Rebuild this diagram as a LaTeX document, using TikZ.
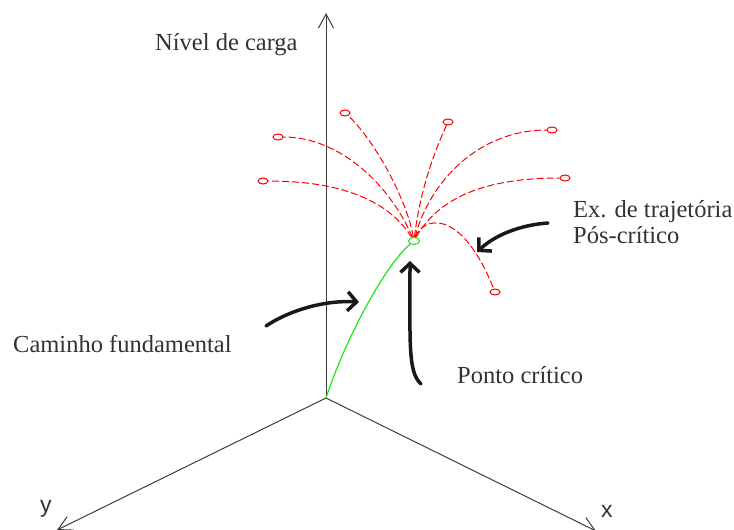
\documentclass[tikz,border=0pt]{standalone}
\usepackage{fontspec}
\setmainfont{Liberation Serif}
\newfontfamily\axisfont{Liberation Sans}
\newfontfamily\labelfont{Liberation Serif}
\usetikzlibrary{arrows.meta,shapes.geometric}
\definecolor{txtgray}{RGB}{50,50,50}
\definecolor{axisgray}{RGB}{60,60,60}
\definecolor{brightgreen}{RGB}{30,230,30}
\tikzset{
  axisline/.style={draw=axisgray, line width=1pt, -{Straight Barb[length=14pt,width=15pt,line width=1pt]}},
  label/.style={text=txtgray, inner sep=0pt, anchor=base west, font=\labelfont\fontsize{24.5}{28}\selectfont},
  axislabel/.style={text=txtgray, inner sep=0pt, anchor=base west, font=\axisfont\fontsize{23}{26}\selectfont},
  endpt/.style={ellipse, draw=red, line width=1pt, minimum width=10pt, minimum height=6pt, inner sep=0pt},
  critpt/.style={ellipse, draw=brightgreen, line width=1pt, minimum width=11pt, minimum height=7pt, inner sep=0pt},
  traj/.style={draw=red, line width=1pt, dash pattern=on 7pt off 3pt},
  fundpath/.style={draw=brightgreen, line width=1.2pt},
  pointer/.style={draw=black!90, line width=3.5pt, line cap=round, -{Straight Barb[length=9pt,width=19pt,line width=3.5pt]}}
}
\begin{document}
\begin{tikzpicture}[x=1pt,y=-1pt]
\useasboundingbox (0,0) rectangle (734,530);
% axes
\coordinate (o) at (326,398);
\coordinate (ztip) at (326,13);
\coordinate (ytip) at (57,530);
\coordinate (xtip) at (596,531);
\draw[axisline] (o) -- (ztip);
\draw[axisline] (o) -- (ytip);
\draw[axisline] (o) -- (xtip);
% critical point and trajectory ends
\node[critpt] (c) at (414,241) {};
\node[endpt] (e1) at (345,113) {};
\node[endpt] (e2) at (278,137) {};
\node[endpt] (e3) at (263,181) {};
\node[endpt] (e4) at (448,122) {};
\node[endpt] (e5) at (552,130) {};
\node[endpt] (e6) at (565,178) {};
\node[endpt] (e7) at (495,292) {};
% fundamental path
\draw[fundpath] (o) .. controls (345,340) and (385,265) .. (c);
% post-critical trajectories
\draw[traj] (c) .. controls (406,195) and (370,135) .. (e1);
\draw[traj] (c) .. controls (390,185) and (340,137) .. (e2);
\draw[traj] (c) .. controls (385,195) and (330,181) .. (e3);
\draw[traj] (c) .. controls (420,190) and (435,150) .. (e4);
\draw[traj] (c) .. controls (430,180) and (480,130) .. (e5);
\draw[traj] (c) .. controls (440,195) and (490,178) .. (e6);
\draw[traj] (c) .. controls (422,218) and (460,205) .. (e7);
% labels
\node[label] (lz) at (155,50) {Nível de carga};
\node[label] (lcam) at (13,352) {Caminho fundamental};
\node[label] (lpc) at (457,383) {Ponto crítico};
\node[label] (lex1) at (573,217) {Ex. de trajetória};
\node[label] (lex2) at (573,243) {Pós-crítico};
\node[axislabel] (ly) at (40,512) {y};
\node[axislabel] (lx) at (601,517) {x};
% pointer arrows
\coordinate (a1s) at (266,326);
\coordinate (a1e) at (359,302);
\draw[pointer] (a1s) .. controls (290,310) and (325,300) .. (a1e);
\coordinate (a2s) at (421,384);
\coordinate (a2e) at (410,261);
\draw[pointer] (a2s) .. controls (408,372) and (410,345) .. (a2e);
\coordinate (a3s) at (548,223);
\coordinate (a3e) at (477,252);
\draw[pointer] (a3s) .. controls (520,225) and (495,235) .. (a3e);
\end{tikzpicture}
\end{document}
